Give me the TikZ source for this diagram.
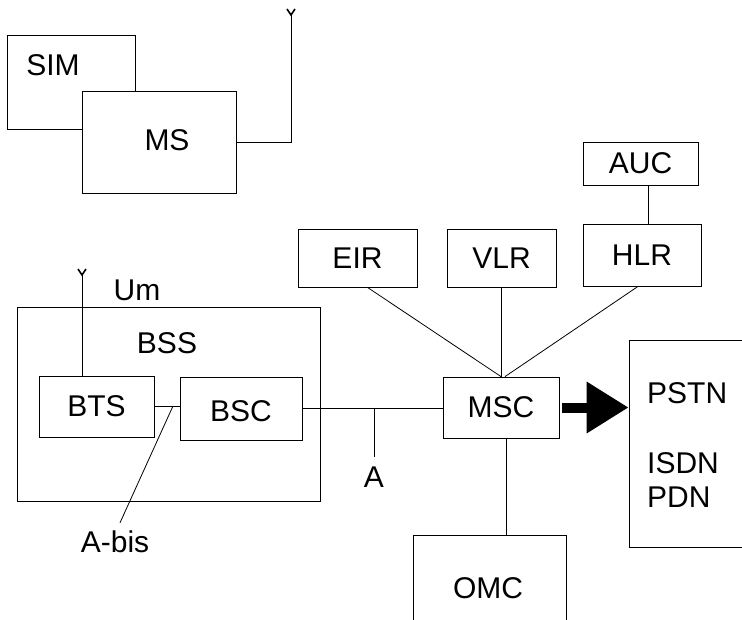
\documentclass[tikz,border=0pt]{standalone}
\usepackage{fontspec}
\setmainfont{Liberation Sans}
\usetikzlibrary{arrows.meta,calc}
\begin{document}
\begin{tikzpicture}[x=1pt,y=-1pt,
  box/.style={draw, line width=0.8pt, inner sep=0pt, fill=white},
  lbl/.style={inner sep=0pt, font=\fontsize{30}{36}\selectfont},
  ln/.style={line width=0.8pt},
  antv/.style={line width=1.6pt}]
\useasboundingbox (0,0) rectangle (742,619);

% Mobile station
\node[box, minimum width=128, minimum height=94] (sim) at (71,82) {};
\node[lbl] (simtext) at (53,65) {SIM};
\node[box, minimum width=154, minimum height=102] (ms) at (159,142) {};
\node[lbl] (mstext) at (167,140) {MS};
\coordinate (msant) at (291,15);
\draw[ln] (ms.east) -| (msant);
\draw[antv] (287,9) -- (msant) -- (295,9);

% BSS
\node[box, minimum width=303, minimum height=194] (bss) at (168.5,404) {};
\node[lbl] (bsstext) at (167,343) {BSS};
\node[lbl] (um) at (137,290) {Um};
\node[box, minimum width=115, minimum height=61] (bts) at (96.5,406.5) {};
\node[lbl] at (bts) {BTS};
\node[box, minimum width=122, minimum height=63] (bsc) at (241,408.5) {};
\node[lbl] at (241,411) {BSC};
\coordinate (btsant) at (82,275);
\draw[ln] (btsant |- bts.north) -- (btsant);
\draw[antv] (78,269) -- (btsant) -- (86,269);
\draw[ln] (bts.east |- 0,406) -- (bsc.west |- 0,406);
\coordinate (abis) at (173,406);
\node[lbl] (abistext) at (115,542) {A-bis};
\draw[ln] (abis) -- ($(abistext.north)+(5,-8)$);

% Core
\node[box, minimum width=116, minimum height=61] (msc) at (501,407.5) {};
\node[lbl] at (msc) {MSC};
\draw[ln] (bsc.east) -- (bsc.east -| msc.west);
\coordinate (atick) at (374,408.5);
\node[lbl] (atext) at (374,477) {A};
\draw[ln] (atick) -- ($(atext.north)+(0,-9)$);

\node[box, minimum width=119, minimum height=58] (eir) at (357.5,258) {};
\node[lbl] at (eir) {EIR};
\node[box, minimum width=109, minimum height=58] (vlr) at (501.5,258) {};
\node[lbl] at (vlr) {VLR};
\node[box, minimum width=118, minimum height=62] (hlr) at (642,255) {};
\node[lbl] at (hlr) {HLR};
\node[box, minimum width=115, minimum height=43] (auc) at (640.5,163.5) {};
\node[lbl] at (auc) {AUC};

\draw[ln] ($(eir.south)+(10,0)$) -- (msc.north);
\draw[ln] (vlr.south -| msc.north) -- (msc.north);
\draw[ln] ($(hlr.south)+(-4,0)$) -- ($(msc.north)+(4,0)$);
\draw[ln] (auc.south -| 648,0) -- (hlr.north -| 648,0);

\node[box, minimum width=153, minimum height=105] (omc) at (489.5,587.5) {};
\node[lbl] at (488,588) {OMC};
\coordinate (mscbot) at ($(msc.south)+(5,0)$);
\draw[ln] (mscbot) -- (mscbot |- omc.north);

\node[box, minimum width=131, minimum height=207] (pstn) at (694.5,443.5) {};
\node[lbl, anchor=west] at (647,393) {PSTN};
\node[lbl, anchor=west] at (647,463) {ISDN};
\node[lbl, anchor=west] at (647,497) {PDN};
\draw[line width=10pt, -{Triangle[length=42pt,width=49pt]}, shorten <=3pt]
  (msc.east) -- (msc.east -| pstn.west);
\end{tikzpicture}
\end{document}
